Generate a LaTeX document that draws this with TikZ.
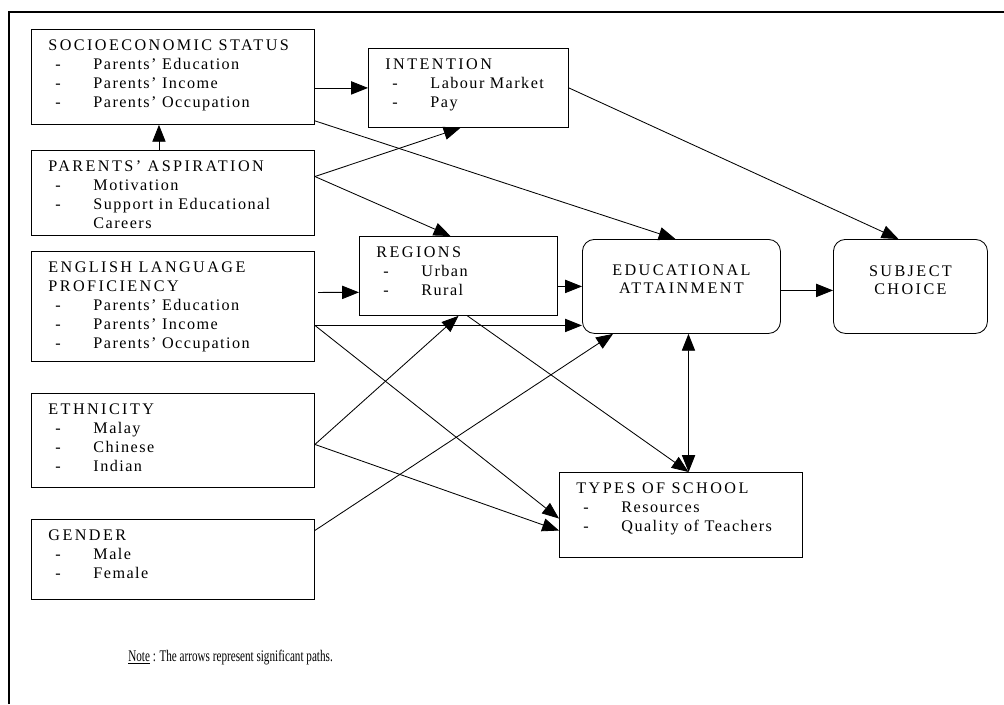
\documentclass[tikz,border=0pt]{standalone}
\usepackage{fontspec}
\usepackage{graphicx}
\setmainfont{Liberation Serif}[LetterSpace=9]
\newfontfamily\ttl{Liberation Serif}[LetterSpace=15]
\newfontfamily\plain{Liberation Serif}
\usetikzlibrary{arrows.meta}
\newcommand{\itm}[1]{\\\hspace*{0.175cm}\makebox[0.95cm][l]{-}#1}
\newcommand{\boxtxt}[4][0.27cm]{\parbox[c][#2][t]{#3}{\vspace*{#1}#4}}

\begin{document}
\begin{tikzpicture}[x=0.025cm, y=-0.025cm,
    blk/.style={draw, line width=0.6pt, anchor=north west, inner xsep=0.425cm, inner ysep=0pt,
      font=\fontsize{11.5}{13.5}\selectfont},
    rblk/.style={blk, rounded corners=0.3cm, inner xsep=0.2cm, font=\fontsize{11.5}{12.5}\selectfont},
    arr/.style={-{Triangle[length=0.42cm,width=0.33cm]}, line width=0.6pt},
    biarr/.style={{Triangle[length=0.42cm,width=0.33cm]}-{Triangle[length=0.42cm,width=0.33cm]}, line width=0.6pt}]
  \useasboundingbox (0,0) rectangle (1004,704);
  \draw[line width=1.6pt] (9,704) |- (1004,12);

  \node[blk] (ses) at (31,29) {\boxtxt{2.375cm}{6.225cm}{{\ttl SOCIOECONOMIC STATUS}\itm{Parents’ Education}\itm{Parents’ Income}\itm{Parents’ Occupation}}};
  \node[blk] (asp) at (31,150) {\boxtxt{2.125cm}{6.225cm}{{\ttl PARENTS’ ASPIRATION}\itm{Motivation}\itm{Support in Educational}\\\hspace*{1.125cm}Careers}};
  \node[blk] (eng) at (31,251) {\boxtxt{2.75cm}{6.225cm}{{\ttl ENGLISH LANGUAGE\\PROFICIENCY}\itm{Parents’ Education}\itm{Parents’ Income}\itm{Parents’ Occupation}}};
  \node[blk] (eth) at (31,393) {\boxtxt{2.35cm}{6.225cm}{{\ttl ETHNICITY}\itm{Malay}\itm{Chinese}\itm{Indian}}};
  \node[blk] (gen) at (31,519) {\boxtxt{2cm}{6.225cm}{{\ttl GENDER}\itm{Male}\itm{Female}}};
  \node[blk] (intent) at (368,48) {\boxtxt[0.25cm]{1.975cm}{4.15cm}{{\ttl INTENTION}\itm{Labour Market}\itm{Pay}}};
  \node[blk] (reg) at (359,236) {\boxtxt{1.975cm}{4.1cm}{{\ttl REGIONS}\itm{Urban}\itm{Rural}}};
  \node[blk] (school) at (559,472) {\boxtxt{2.125cm}{5.225cm}{{\ttl TYPES OF SCHOOL}\itm{Resources}\itm{Quality of Teachers}}};
  \node[rblk] (edu) at (582,239) {\boxtxt[0.64cm]{2.35cm}{4.55cm}{\centering{\ttl EDUCATIONAL\\ATTAINMENT}}};
  \node[rblk] (subj) at (833,239) {\boxtxt[0.66cm]{2.35cm}{3.45cm}{\centering{\ttl SUBJECT\\CHOICE}}};
  \node[anchor=base west, inner sep=0pt, font=\plain\fontsize{11.5}{13}\selectfont] (note) at (128,661)
    {\scalebox{0.69}[1]{\underline{Note} : The arrows represent significant paths.}};

  \draw[arr] (ses.east |- intent.west) -- (intent.west);
  \draw[arr] ([xshift=-0.35cm]asp.north) -- ([xshift=-0.35cm]ses.south);
  \draw[arr] ([yshift=0.41cm]asp.east) -- ([xshift=-0.2cm]intent.south);
  \draw[arr] ([yshift=0.41cm]asp.east) -- ([xshift=-0.2cm]reg.north);
  \draw[arr] ([yshift=0.1cm]ses.south east) -- ([xshift=-0.15cm]edu.north);
  \draw[arr] (intent.east) -- ([xshift=-0.3cm]subj.north);
  \draw[arr, shorten <=0.08cm] ([yshift=0.35cm]eng.east) -- ([yshift=-0.41cm]reg.west);
  \draw[arr] ([yshift=-0.475cm]eng.east) -- ([yshift=-0.975cm]edu.west);
  \draw[arr] ([yshift=-0.475cm]eng.east) -- ([yshift=-0.09cm]school.west);
  \draw[arr] ([yshift=-0.1cm]eth.east) -- ([yshift=-0.39cm]school.west);
  \draw[arr] ([yshift=-0.1cm]eth.east) -- (reg.south);
  \draw[arr] (reg.east |- edu.west) -- (edu.west);
  \draw[arr] ([xshift=0.225cm]reg.south) -- ([xshift=0.19cm]school.north);
  \draw[biarr] ([xshift=0.175cm]edu.south) -- ([xshift=0.19cm]school.north);
  \draw[arr] ([yshift=0.725cm]gen.east) -- ([xshift=0.775cm]edu.south west);
  \draw[arr] ([yshift=-0.1cm]edu.east) -- ([yshift=-0.1cm]subj.west);
\end{tikzpicture}
\end{document}
